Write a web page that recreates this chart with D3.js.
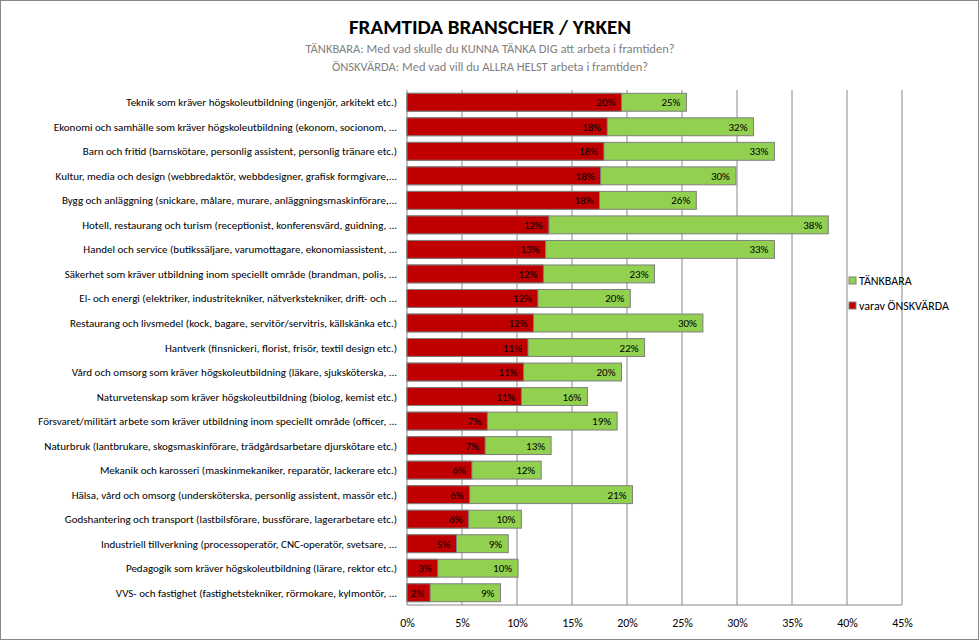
<!DOCTYPE html>
<html><head><meta charset="utf-8">
<script src="https://cdn.jsdelivr.net/npm/d3@7"></script>
<style>body{margin:0;background:#fff}text{font-family:Calibri,Carlito,"Liberation Sans",Arial,sans-serif}</style>
</head><body><svg id="c" width="980" height="641"></svg>
<script>
const categories=["Teknik som kräver högskoleutbildning  (ingenjör,  arkitekt etc.)","Ekonomi och  samhälle som kräver högskoleutbildning  (ekonom,  socionom, ...","Barn och fritid (barnskötare,  personlig assistent, personlig tränare etc.)","Kultur, media och design (webbredaktör,  webbdesigner, grafisk formgivare,...","Bygg och anläggning (snickare, målare, murare, anläggningsmaskinförare,...","Hotell, restaurang och turism (receptionist, konferensvärd,  guidning, ...","Handel och service (butikssäljare, varumottagare, ekonomiassistent, ...","Säkerhet som kräver  utbildning inom speciellt område (brandman, polis, ...","El- och energi (elektriker, industritekniker,  nätverkstekniker,  drift- och ...","Restaurang och livsmedel (kock,  bagare, servitör/servitris, källskänka etc.)","Hantverk (finsnickeri,  florist, frisör, textil design etc.)","Vård och omsorg som kräver  högskoleutbildning (läkare, sjuksköterska, ...","Naturvetenskap som kräver  högskoleutbildning  (biolog,  kemist etc.)","Försvaret/militärt arbete som kräver utbildning inom speciellt område (officer, ...","Naturbruk (lantbrukare, skogsmaskinförare, trädgårdsarbetare djurskötare  etc.)","Mekanik och karosseri (maskinmekaniker, reparatör,  lackerare etc.)","Hälsa, vård och omsorg (undersköterska,  personlig assistent, massör etc.)","Godshantering och transport  (lastbilsförare, bussförare, lagerarbetare etc.)","Industriell tillverkning (processoperatör,  CNC-operatör,  svetsare, ...","Pedagogik som kräver  högskoleutbildning  (lärare, rektor etc.)","VVS- och fastighet (fastighetstekniker, rörmokare, kylmontör, ..."];
const onskvarda=[19.5,18.2,17.9,17.6,17.5,12.9,12.6,12.4,11.9,11.5,11.0,10.6,10.4,7.3,7.1,5.9,5.7,5.6,4.5,2.8,2.1];
const tankbara=[25.4,31.5,33.4,29.9,26.3,38.3,33.4,22.5,20.3,26.9,21.6,19.5,16.4,19.1,13.1,12.2,20.5,10.4,9.2,10.1,8.5];
const onskLabels=["20%","18%","18%","18%","18%","12%","13%","12%","12%","12%","11%","11%","11%","7%","7%","6%","6%","6%","5%","3%","2%"];
const tankLabels=["25%","32%","33%","30%","26%","38%","33%","23%","20%","30%","22%","20%","16%","19%","13%","12%","21%","10%","9%","10%","9%"];
const ticks=[0,5,10,15,20,25,30,35,40,45];

const svg=d3.select("#c");
svg.append("rect").attr("x",0.5).attr("y",0.5).attr("width",978).attr("height",639).attr("fill","#fff").attr("stroke","#888");
svg.append("text").attr("x",490).attr("y",34).attr("text-anchor","middle").attr("font-size",21).attr("font-weight","bold").text("FRAMTIDA BRANSCHER / YRKEN");
svg.append("text").attr("x",490).attr("y",53).attr("text-anchor","middle").attr("font-size",12.5).attr("fill","#7f7f7f").text("TÄNKBARA: Med vad skulle du KUNNA TÄNKA DIG att arbeta i framtiden?");
svg.append("text").attr("x",490).attr("y",71).attr("text-anchor","middle").attr("font-size",12.5).attr("fill","#7f7f7f").text("ÖNSKVÄRDA: Med vad vill du ALLRA HELST arbeta i framtiden?");

const x=d3.scaleLinear().domain([0,45]).range([407,902]);
const y=d3.scaleBand().domain(categories).range([90,605]).paddingInner(0.27).paddingOuter(0.135);
const g=svg.append("g");
g.selectAll(".grid").data(ticks).join("line").attr("x1",d=>x(d)).attr("x2",d=>x(d)).attr("y1",90).attr("y2",605).attr("stroke","#888");
g.append("line").attr("x1",407).attr("x2",902).attr("y1",605).attr("y2",605).attr("stroke","#888");
const ax=svg.append("g").attr("transform","translate(0,605)").call(d3.axisBottom(x).tickValues(ticks).tickFormat(d=>d+"%").tickSize(0).tickPadding(13));
ax.select(".domain").remove();
ax.selectAll("text").attr("font-size",12).attr("font-family","Calibri,Carlito,'Liberation Sans',sans-serif");
svg.selectAll(".cat").data(categories).join("text").attr("x",397).attr("y",d=>y(d)+y.bandwidth()/2+4).attr("text-anchor","end").attr("font-size",11).text(d=>d);
svg.selectAll(".gb").data(tankbara).join("rect").attr("x",x(0)).attr("y",(d,i)=>y(categories[i])).attr("width",d=>x(d)-x(0)).attr("height",y.bandwidth()).attr("fill","#92d050").attr("stroke","#7f7f7f");
svg.selectAll(".rb").data(onskvarda).join("rect").attr("x",x(0)).attr("y",(d,i)=>y(categories[i])).attr("width",d=>x(d)-x(0)).attr("height",y.bandwidth()).attr("fill","#c00000").attr("stroke","#7f7f7f");
svg.selectAll(".gl").data(tankbara).join("text").attr("x",d=>x(d)-6).attr("y",(d,i)=>y(categories[i])+y.bandwidth()/2+4).attr("text-anchor","end").attr("font-size",11).text((d,i)=>tankLabels[i]);
svg.selectAll(".rl").data(onskvarda).join("text").attr("x",d=>x(d)-6).attr("y",(d,i)=>y(categories[i])+y.bandwidth()/2+4).attr("text-anchor","end").attr("font-size",11).text((d,i)=>onskLabels[i]);
const leg=[["#92d050","TÄNKBARA",281],["#c00000","varav ÖNSKVÄRDA",306]];
leg.forEach(([c,t,yy])=>{svg.append("rect").attr("x",849).attr("y",yy-4).attr("width",7).attr("height",7).attr("fill",c).attr("stroke","#7f7f7f");
svg.append("text").attr("x",859).attr("y",yy+4).attr("font-size",12).text(t);});
</script></body></html>
